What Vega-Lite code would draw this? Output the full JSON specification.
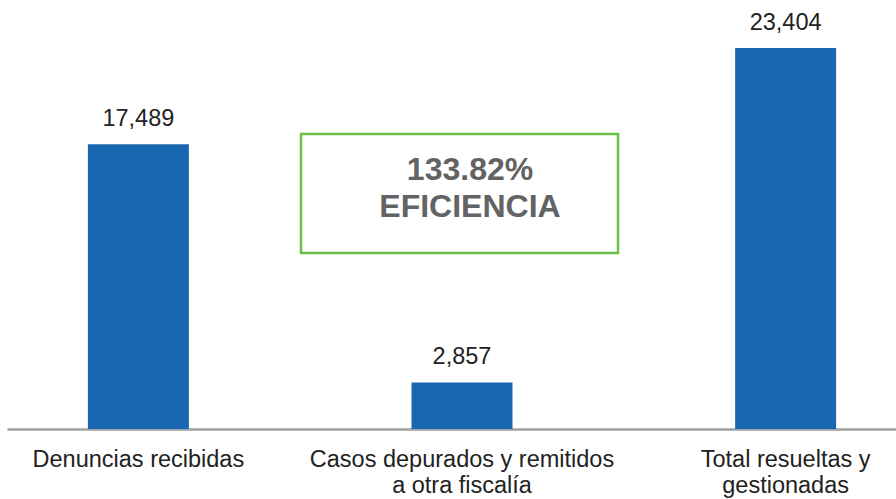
{
  "$schema": "https://vega.github.io/schema/vega-lite/v6.json",
  "width": 896,
  "height": 429,
  "autosize": {"type": "none"},
  "padding": {"left": 0, "top": 0, "right": 0, "bottom": 70},
  "background": "white",
  "config": {"view": {"stroke": null}, "font": "Liberation Sans"},
  "datasets": {
    "bars": [
      {"categoria": "Denuncias recibidas", "valor": 17489},
      {"categoria": "Casos depurados y remitidos a otra fiscalía", "valor": 2857},
      {"categoria": "Total resueltas y gestionadas", "valor": 23404}
    ],
    "nota": [
      {"categoria": "Casos depurados y remitidos a otra fiscalía", "arriba": 18122, "abajo": 10812, "texto_y": 15296, "texto": ["133.82%", "EFICIENCIA"]}
    ]
  },
  "layer": [
    {
      "data": {"name": "bars"},
      "mark": {"type": "bar", "color": "#1a67b1"},
      "encoding": {
        "x": {
          "field": "categoria", "type": "nominal", "sort": null,
          "scale": {"range": [7, 917], "paddingInner": 0.688, "paddingOuter": 0.25},
          "axis": {
            "title": null, "ticks": false, "domainColor": "#a0a0a0", "domainWidth": 2.5,
            "labelAngle": 0, "labelFontSize": 23.5, "labelColor": "#222222", "labelPadding": 18,
            "labelLineHeight": 26, "labelBaseline": "top", "labelLimit": 400,
            "labelExpr": "datum.label == 'Casos depurados y remitidos a otra fiscalía' ? ['Casos depurados y remitidos', 'a otra fiscalía'] : datum.label == 'Total resueltas y gestionadas' ? ['Total resueltas y', 'gestionadas'] : datum.label"
          }
        },
        "y": {
          "field": "valor", "type": "quantitative",
          "scale": {"domain": [0, 26353], "nice": false, "zero": true},
          "axis": null
        }
      }
    },
    {
      "data": {"name": "bars"},
      "mark": {"type": "text", "baseline": "alphabetic", "dy": -18, "fontSize": 23.5, "color": "#222222"},
      "encoding": {
        "x": {"field": "categoria", "type": "nominal", "sort": null},
        "y": {"field": "valor", "type": "quantitative"},
        "text": {"field": "valor", "type": "quantitative", "format": ","}
      }
    },
    {
      "data": {"name": "nota"},
      "mark": {"type": "bar", "width": 317, "xOffset": -2.5, "fill": "white", "stroke": "#6cbf4a", "strokeWidth": 2.5},
      "encoding": {
        "x": {"field": "categoria", "type": "nominal", "sort": null},
        "y": {"field": "arriba", "type": "quantitative"},
        "y2": {"field": "abajo"}
      }
    },
    {
      "data": {"name": "nota"},
      "mark": {"type": "text", "baseline": "alphabetic", "fontSize": 32, "fontWeight": "bold", "color": "#636363", "lineHeight": 37, "dx": 8},
      "encoding": {
        "x": {"field": "categoria", "type": "nominal", "sort": null},
        "y": {"field": "texto_y", "type": "quantitative"},
        "text": {"field": "texto"}
      }
    }
  ]
}
